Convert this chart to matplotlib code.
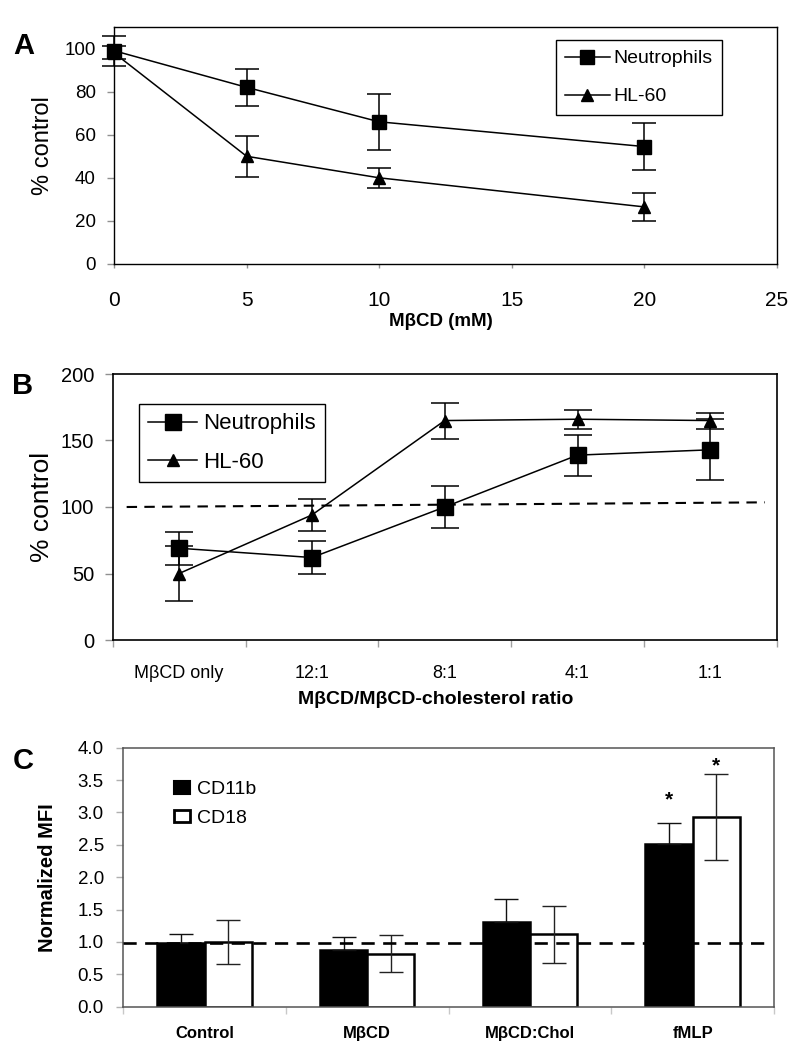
import matplotlib
matplotlib.use('Agg')
import matplotlib.pyplot as plt
from matplotlib.lines import Line2D
from matplotlib.patches import Patch
from matplotlib.ticker import FixedLocator, NullFormatter, FormatStrFormatter
import numpy as np

plt.rcParams['font.family'] = ['Liberation Sans', 'DejaVu Sans']

# ---------------- Panel A data ----------------
conc_mM = [0, 5, 10, 20]
neut_A = [99, 82, 66, 54.5]
neut_A_err = [7, 8.5, 13, 11]
hl60_A = [98, 50, 40, 26.5]
hl60_A_err = [3, 9.5, 4.5, 6.5]
A_xticks = [0, 5, 10, 15, 20, 25]
A_yticks = [0, 20, 40, 60, 80, 100]

# ---------------- Panel B data ----------------
ratio_labels = ['MβCD only', '12:1', '8:1', '4:1', '1:1']
neut_B = [69, 62, 100, 139, 143]
neut_B_err = [12.5, 12.5, 16, 15.5, 23]
hl60_B = [50, 94, 165, 166, 165]
hl60_B_err = [21, 12, 13.5, 7, 6]
B_ref = [100, 103.5]
B_yticks = [0, 50, 100, 150, 200]

# ---------------- Panel C data ----------------
treatments = ['Control', 'MβCD', 'MβCD:Chol', 'fMLP']
cd11b = [0.99, 0.88, 1.31, 2.51]
cd11b_err = [0.14, 0.20, 0.35, 0.32]
cd18 = [1.00, 0.82, 1.12, 2.93]
cd18_err = [0.34, 0.29, 0.44, 0.66]
C_ref = 0.98
star_cd11b = [None, None, None, 3.20]
star_cd18 = [None, None, None, 3.72]
C_yticks = [0.0, 0.5, 1.0, 1.5, 2.0, 2.5, 3.0, 3.5, 4.0]

W, H = 802, 1050
fig = plt.figure(figsize=(W / 100, H / 100), dpi=100)


def rect(l, t, r, b):
    return [l / W, 1 - b / H, (r - l) / W, (b - t) / H]


# =============== Panel A ===============
axA = fig.add_axes(rect(114, 27, 777, 264))
axA.errorbar(conc_mM, hl60_A, yerr=hl60_A_err, fmt='-^', color='black', ms=8,
             lw=1.1, elinewidth=1.1, capsize=8.5, capthick=1.1, clip_on=False, zorder=3)
axA.errorbar(conc_mM, neut_A, yerr=neut_A_err, fmt='-s', color='black', ms=9.5,
             lw=1.1, elinewidth=1.1, capsize=8.5, capthick=1.1, clip_on=False, zorder=4)
axA.set_xlim(0, 25)
axA.set_ylim(0, 110)
axA.set_xticks(A_xticks)
axA.set_yticks(A_yticks)
axA.tick_params(axis='x', length=3, width=1, color='#909090', labelsize=15, pad=16.5)
axA.tick_params(axis='y', length=5, width=1, color='#909090', labelsize=13.5, pad=8.2)
for s in axA.spines.values():
    s.set_linewidth(1.0)
    s.set_color('black')
axA.set_ylabel('% control', fontsize=17, va='center')
axA.yaxis.set_label_coords((43 - 114) / 663, 0.5)
axA.set_xlabel('MβCD (mM)', fontsize=13.5, fontweight='bold', va='center')
axA.xaxis.set_label_coords((441 - 114) / 663, (264 - 322) / 237)
hA = [Line2D([], [], color='black', marker='s', ms=9.5, lw=1.1),
      Line2D([], [], color='black', marker='^', ms=8, lw=1.1)]
legA = axA.legend(hA, ['Neutrophils', 'HL-60'], loc='upper left',
                  bbox_to_anchor=(555.7 / W, 1 - 40 / H), bbox_transform=fig.transFigure,
                  borderaxespad=0, fontsize=14, handlelength=2.27, handletextpad=0.19,
                  labelspacing=1.05, borderpad=0.5, fancybox=False, framealpha=1)
legA.get_frame().set_edgecolor('black')
legA.get_frame().set_linewidth(1.0)

# =============== Panel B ===============
axB = fig.add_axes(rect(112.7, 374, 776.7, 640))
xb = np.arange(len(ratio_labels))
axB.errorbar(xb, hl60_B, yerr=hl60_B_err, fmt='-^', color='black', ms=8.5,
             lw=1.1, elinewidth=1.1, capsize=10, capthick=1.1, zorder=3)
axB.errorbar(xb, neut_B, yerr=neut_B_err, fmt='-s', color='black', ms=11.5,
             lw=1.1, elinewidth=1.1, capsize=10, capthick=1.1, zorder=4)
axB.plot([-0.395, 4.41], B_ref, color='black', lw=1.5, ls=(0, (5, 3.5)), zorder=2)
axB.set_xlim(-0.5, len(ratio_labels) - 0.5)
axB.set_ylim(0, 200)
axB.set_yticks(B_yticks)
axB.xaxis.set_major_locator(FixedLocator(np.arange(len(ratio_labels) + 1) - 0.5))
axB.xaxis.set_major_formatter(NullFormatter())
axB.xaxis.set_minor_locator(FixedLocator(xb))
axB.set_xticklabels(ratio_labels, minor=True)
axB.tick_params(axis='x', which='major', length=5, width=1, color='#a0a0a0')
axB.tick_params(axis='x', which='minor', length=0, labelsize=13, pad=18)
axB.tick_params(axis='y', length=6, width=1, color='#909090', labelsize=14.5, pad=7.2)
for s in axB.spines.values():
    s.set_linewidth(1.2)
    s.set_color('black')
axB.set_ylabel('% control', fontsize=19, va='center')
axB.yaxis.set_label_coords((41.7 - 112.7) / 664, 0.5)
axB.set_xlabel('MβCD/MβCD-cholesterol ratio', fontsize=14, fontweight='bold', va='center')
axB.xaxis.set_label_coords((436 - 112.7) / 664, (640 - 700) / 266)
hB = [Line2D([], [], color='black', marker='s', ms=12, lw=1.1),
      Line2D([], [], color='black', marker='^', ms=9, lw=1.1)]
legB = axB.legend(hB, ['Neutrophils', 'HL-60'], loc='upper left',
                  bbox_to_anchor=(139 / W, 1 - 404 / H), bbox_transform=fig.transFigure,
                  borderaxespad=0, fontsize=16, handlelength=2.19, handletextpad=0.27,
                  labelspacing=0.8, borderpad=0.42, fancybox=False, framealpha=1)
legB.get_frame().set_edgecolor('black')
legB.get_frame().set_linewidth(1.0)

# =============== Panel C ===============
axC = fig.add_axes(rect(123.3, 747.7, 774, 1006.7))
xc = np.arange(len(treatments))
bw = 0.29
axC.bar(xc - bw / 2, cd11b, bw, color='black', edgecolor='black', lw=1.8, zorder=2)
axC.bar(xc + bw / 2, cd18, bw, color='white', edgecolor='black', lw=1.8, zorder=2)
axC.errorbar(xc - bw / 2, cd11b, yerr=[np.zeros(len(cd11b)), cd11b_err], fmt='none',
             ecolor='#111111', elinewidth=1.0, capsize=8.4, capthick=1.0, zorder=3)
axC.errorbar(xc + bw / 2, cd18, yerr=cd18_err, fmt='none', ecolor='#222222',
             elinewidth=1.0, capsize=8.4, capthick=1.0, zorder=3)
axC.plot([-0.5, 3.444], [C_ref, C_ref], color='black', lw=1.9, ls=(0, (5, 3.2)), zorder=4)
for i, sy in enumerate(star_cd11b):
    if sy is not None:
        axC.text(xc[i] - bw / 2, sy, '*', ha='center', va='center', fontsize=15, fontweight='bold')
for i, sy in enumerate(star_cd18):
    if sy is not None:
        axC.text(xc[i] + bw / 2, sy, '*', ha='center', va='center', fontsize=15, fontweight='bold')
axC.set_xlim(-0.5, len(treatments) - 0.5)
axC.set_ylim(0, 4.0)
axC.set_yticks(C_yticks)
axC.yaxis.set_major_formatter(FormatStrFormatter('%.1f'))
axC.xaxis.set_major_locator(FixedLocator(np.arange(len(treatments) + 1) - 0.5))
axC.xaxis.set_major_formatter(NullFormatter())
axC.xaxis.set_minor_locator(FixedLocator(xc))
axC.set_xticklabels(treatments, minor=True, fontweight='bold', fontsize=12)
axC.tick_params(axis='x', which='major', length=5, width=1, color='#c8c8c8')
axC.tick_params(axis='x', which='minor', length=0, pad=14.2)
axC.tick_params(axis='y', length=5, width=1, color='#b0b0b0', labelsize=13.5, pad=9.0)
for s in axC.spines.values():
    s.set_linewidth(1.1)
    s.set_color('#555555')
axC.set_ylabel('Normalized MFI', fontsize=14.5, fontweight='bold', va='center')
axC.yaxis.set_label_coords((48 - 123.3) / 650.7, 0.5)
hC = [Patch(facecolor='black', edgecolor='black', lw=1.5),
      Patch(facecolor='white', edgecolor='black', lw=2.0)]
legC = axC.legend(hC, ['CD11b', 'CD18'], loc='upper left',
                  bbox_to_anchor=(174 / W, 1 - 781 / H), bbox_transform=fig.transFigure,
                  borderaxespad=0, borderpad=0, fontsize=14, handlelength=0.8,
                  handleheight=0.62, handletextpad=0.37, labelspacing=0.6, frameon=False)

# panel letters
fig.text(24 / W, 1 - 46 / H, 'A', fontsize=21, fontweight='bold', ha='center', va='center')
fig.text(23 / W, 1 - 386 / H, 'B', fontsize=21, fontweight='bold', ha='center', va='center')
fig.text(23 / W, 1 - 761 / H, 'C', fontsize=21, fontweight='bold', ha='center', va='center')

fig.savefig('out.png', dpi=100, facecolor='white')
